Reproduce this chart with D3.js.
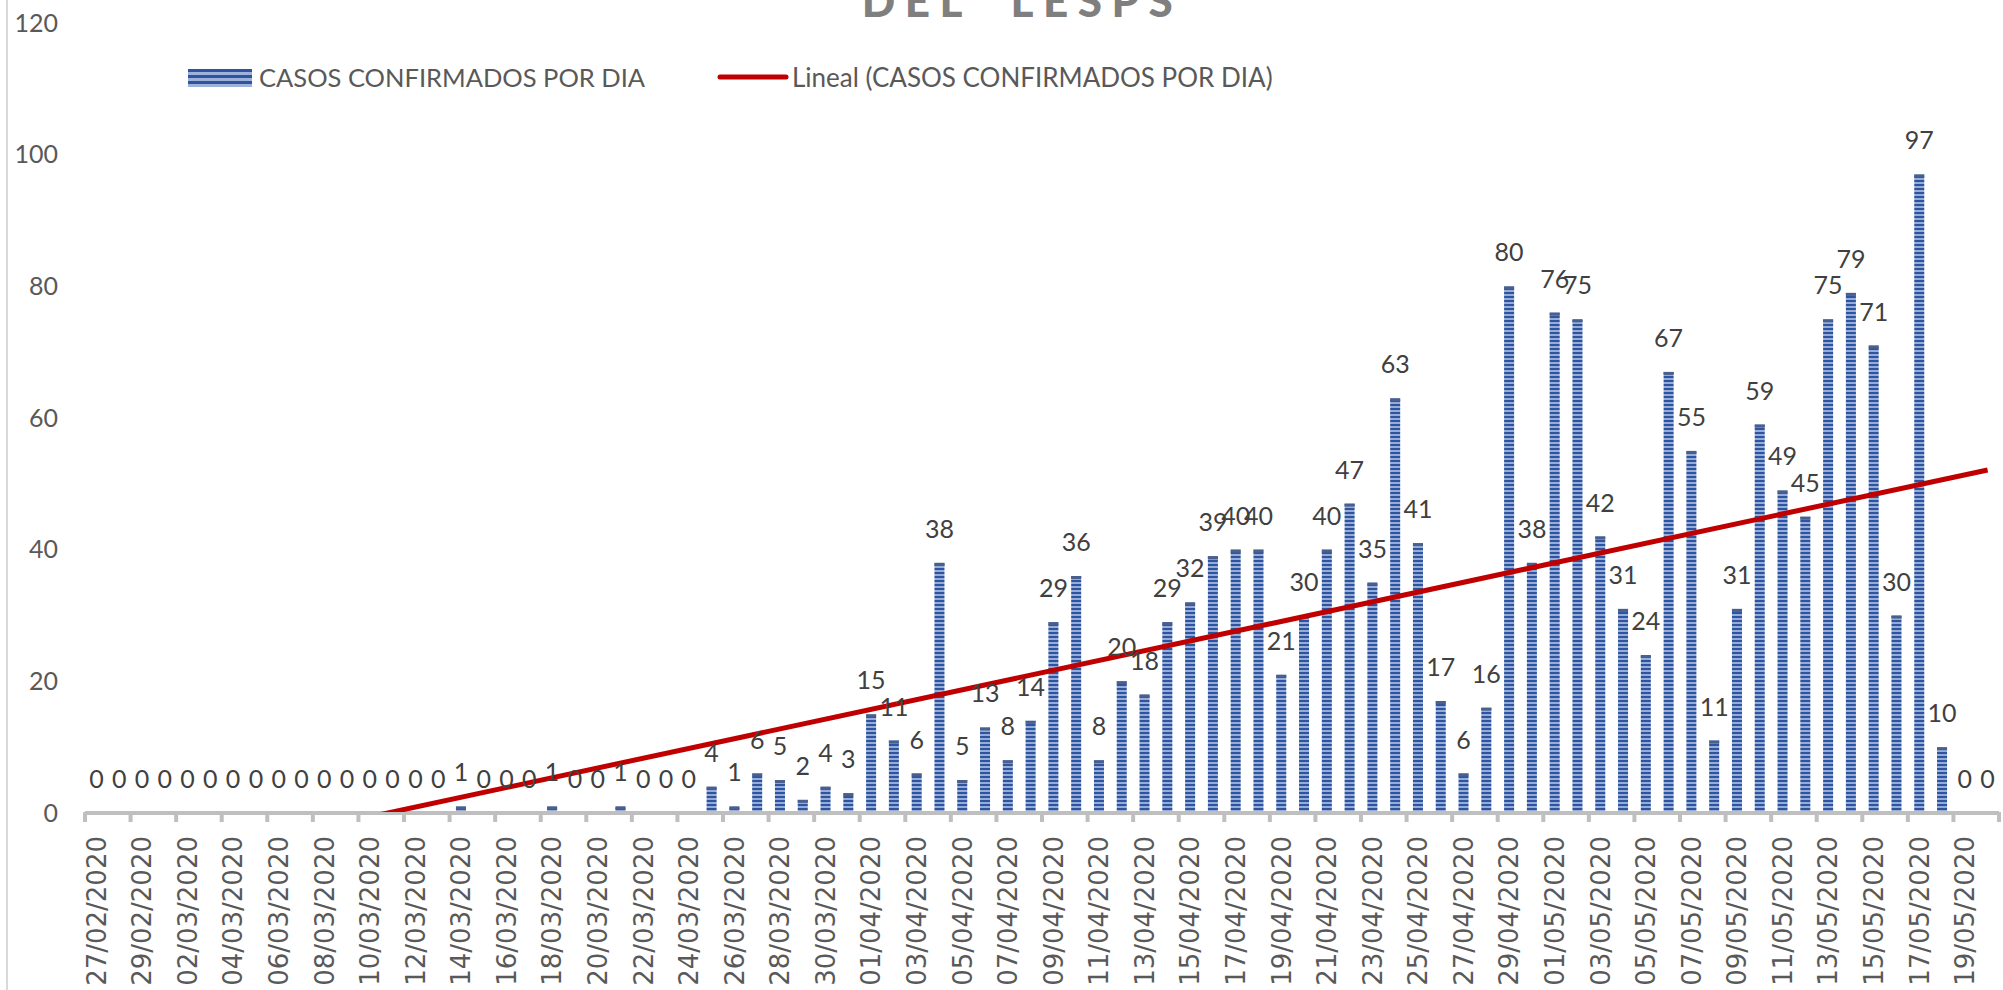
<!DOCTYPE html>
<html>
<head>
<meta charset="utf-8">
<script src="https://cdn.jsdelivr.net/npm/d3@7"></script>
<style>
  body { margin: 0; background: #fff; overflow: hidden; }
</style>
</head>
<body>
<div class="main"></div>
<script>
// fechas (categorias)
const fechas = [
  "27/02/2020","28/02/2020","29/02/2020",
  "01/03/2020","02/03/2020","03/03/2020","04/03/2020","05/03/2020","06/03/2020","07/03/2020","08/03/2020",
  "09/03/2020","10/03/2020","11/03/2020","12/03/2020","13/03/2020","14/03/2020","15/03/2020","16/03/2020",
  "17/03/2020","18/03/2020","19/03/2020","20/03/2020","21/03/2020","22/03/2020","23/03/2020","24/03/2020",
  "25/03/2020","26/03/2020","27/03/2020","28/03/2020","29/03/2020","30/03/2020","31/03/2020",
  "01/04/2020","02/04/2020","03/04/2020","04/04/2020","05/04/2020","06/04/2020","07/04/2020","08/04/2020",
  "09/04/2020","10/04/2020","11/04/2020","12/04/2020","13/04/2020","14/04/2020","15/04/2020","16/04/2020",
  "17/04/2020","18/04/2020","19/04/2020","20/04/2020","21/04/2020","22/04/2020","23/04/2020","24/04/2020",
  "25/04/2020","26/04/2020","27/04/2020","28/04/2020","29/04/2020","30/04/2020",
  "01/05/2020","02/05/2020","03/05/2020","04/05/2020","05/05/2020","06/05/2020","07/05/2020","08/05/2020",
  "09/05/2020","10/05/2020","11/05/2020","12/05/2020","13/05/2020","14/05/2020","15/05/2020","16/05/2020",
  "17/05/2020","18/05/2020","19/05/2020","20/05/2020"
];

// casos confirmados por dia
const casos = [
  0,0,0,0,0,0,0,0,0,0,0,0,0,0,0,0,
  1,0,0,0,1,0,0,1,0,0,0,
  4,1,6,5,2,4,3,15,11,6,38,5,13,8,14,29,36,8,20,18,29,32,39,40,40,21,30,40,47,35,63,41,
  17,6,16,80,38,76,75,42,31,24,67,55,11,31,59,49,45,75,79,71,30,97,10,0,0
];

const yTicks = [0, 20, 40, 60, 80, 100, 120];
const serieNombre = "CASOS CONFIRMADOS POR DIA";
const tendenciaNombre = "Lineal (CASOS CONFIRMADOS POR DIA)";
const titulo = "DEL  LESPS";

const w = 2003;
const h = 990;
const m = { left: 85, right: 1999, top: 23, bottom: 812 };

const svg = d3.select(".main")
  .append("svg")
  .attr("width", w)
  .attr("height", h);

const defs = svg.append("defs");

// rayas horizontales de las barras
const pat = defs.append("pattern")
  .attr("id", "rayas")
  .attr("patternUnits", "userSpaceOnUse")
  .attr("width", 4)
  .attr("height", 4)
  .attr("y", m.bottom);
pat.append("rect").attr("width", 4).attr("height", 4).attr("fill", "#97acd8");
pat.append("rect").attr("width", 4).attr("height", 2).attr("fill", "#2d559f");

const pat2 = defs.append("pattern")
  .attr("id", "rayasLeyenda")
  .attr("patternUnits", "userSpaceOnUse")
  .attr("width", 4)
  .attr("height", 6)
  .attr("y", 69);
pat2.append("rect").attr("width", 4).attr("height", 6).attr("fill", "#9db1da");
pat2.append("rect").attr("width", 4).attr("height", 3).attr("fill", "#2d559f");

defs.append("clipPath")
  .attr("id", "area")
  .append("rect")
  .attr("x", m.left).attr("y", m.top)
  .attr("width", m.right - m.left).attr("height", m.bottom - m.top);

// borde izquierdo
svg.append("line")
  .attr("x1", 7).attr("x2", 7)
  .attr("y1", 0).attr("y2", h)
  .attr("stroke", "#d9d9d9")
  .attr("stroke-width", 2);

const xScale = d3.scaleBand()
  .domain(fechas)
  .range([m.left, m.right])
  .paddingInner(0.56)
  .paddingOuter(0.28);

const xLin = d3.scaleLinear()
  .domain([0, fechas.length])
  .range([m.left, m.right]);

const yScale = d3.scaleLinear()
  .domain([0, 120])
  .range([m.bottom + 1, m.top]);

// titulo (cortado arriba, como en el original)
svg.append("text")
  .attr("x", 1022)
  .attr("y", 17)
  .attr("text-anchor", "middle")
  .attr("font-family", "Lato")
  .attr("font-weight", "900")
  .attr("font-size", "44px")
  .attr("letter-spacing", "9.5px")
  .attr("fill", "#7f7f7f")
  .style("white-space", "pre")
  .text(titulo);

// eje y
const yAxis = d3.axisLeft(yScale)
  .tickValues(yTicks)
  .tickSize(0)
  .tickPadding(27);

svg.append("g")
  .attr("transform", "translate(" + m.left + ",0)")
  .call(yAxis)
  .call(g => g.select(".domain").remove())
  .selectAll("text")
  .attr("font-family", "Lato")
  .attr("font-size", "25px")
  .attr("fill", "#595959");

// barras
svg.selectAll(".barra")
  .data(casos)
  .enter()
  .append("rect")
  .attr("class", "barra")
  .attr("x", (d, i) => xScale(fechas[i]))
  .attr("y", (d) => yScale(d))
  .attr("width", xScale.bandwidth())
  .attr("height", (d) => yScale(0) - yScale(d))
  .attr("fill", "url(#rayas)");

svg.selectAll(".tapa")
  .data(casos)
  .enter()
  .append("rect")
  .attr("class", "tapa")
  .attr("x", (d, i) => xScale(fechas[i]))
  .attr("y", (d) => yScale(d))
  .attr("width", xScale.bandwidth())
  .attr("height", (d) => d > 0 ? 3 : 0)
  .attr("fill", "#4a5f8c");

// eje x
svg.append("line")
  .attr("x1", m.left).attr("x2", m.right)
  .attr("y1", m.bottom + 1).attr("y2", m.bottom + 1)
  .attr("stroke", "#bfbfbf")
  .attr("stroke-width", 4);

const marcas = d3.range(0, fechas.length + 1, 2);
svg.selectAll(".marca")
  .data(marcas)
  .enter()
  .append("line")
  .attr("class", "marca")
  .attr("x1", (d) => xLin(d)).attr("x2", (d) => xLin(d))
  .attr("y1", m.bottom).attr("y2", m.bottom + 10)
  .attr("stroke", "#bfbfbf")
  .attr("stroke-width", 4);

const xAxis = d3.axisBottom(xScale)
  .tickValues(fechas.filter((d, i) => i % 2 == 0))
  .tickSize(0);

svg.append("g")
  .attr("transform", "translate(0," + m.bottom + ")")
  .call(xAxis)
  .call(g => g.select(".domain").remove())
  .selectAll("text")
  .attr("font-family", "DejaVu Sans")
  .attr("font-size", "26px")
  .attr("fill", "#595959")
  .attr("text-anchor", "end")
  .attr("transform", "rotate(-90)")
  .attr("x", -24)
  .attr("y", 0)
  .attr("dy", "0.36em");

// linea de tendencia lineal (minimos cuadrados, x = 1..n)
const n = casos.length;
let sx = 0, sy = 0, sxy = 0, sxx = 0;
casos.forEach((v, i) => {
  const x = i + 1;
  sx += x; sy += v; sxy += x * v; sxx += x * x;
});
const pendiente = (n * sxy - sx * sy) / (n * sxx - sx * sx);
const corte = (sy - pendiente * sx) / n;

const linea = d3.line()
  .x((d) => xScale(fechas[d - 1]) + xScale.bandwidth() / 2)
  .y((d) => yScale(corte + pendiente * d));

svg.append("path")
  .datum([1, n])
  .attr("d", linea)
  .attr("clip-path", "url(#area)")
  .attr("fill", "none")
  .attr("stroke", "#c00000")
  .attr("stroke-width", 5);

// etiquetas de datos
svg.selectAll(".etiqueta")
  .data(casos)
  .enter()
  .append("text")
  .attr("class", "etiqueta")
  .attr("x", (d, i) => xScale(fechas[i]) + xScale.bandwidth() / 2)
  .attr("y", (d) => yScale(d) - 25)
  .attr("text-anchor", "middle")
  .attr("font-family", "Lato")
  .attr("font-size", "25px")
  .attr("fill", "#404040")
  .text((d) => d);

// leyenda
svg.append("rect")
  .attr("x", 188)
  .attr("y", 69)
  .attr("width", 64)
  .attr("height", 18)
  .attr("fill", "url(#rayasLeyenda)");

svg.append("text")
  .attr("x", 259)
  .attr("y", 87)
  .attr("font-family", "Lato")
  .attr("font-size", "25.5px")
  .attr("fill", "#595959")
  .text(serieNombre);

svg.append("line")
  .attr("x1", 720).attr("x2", 786)
  .attr("y1", 77).attr("y2", 77)
  .attr("stroke", "#c00000")
  .attr("stroke-width", 5)
  .attr("stroke-linecap", "round");

svg.append("text")
  .attr("x", 792)
  .attr("y", 87)
  .attr("font-family", "Lato")
  .attr("font-size", "26px")
  .attr("fill", "#595959")
  .text(tendenciaNombre);
</script>
</body>
</html>
